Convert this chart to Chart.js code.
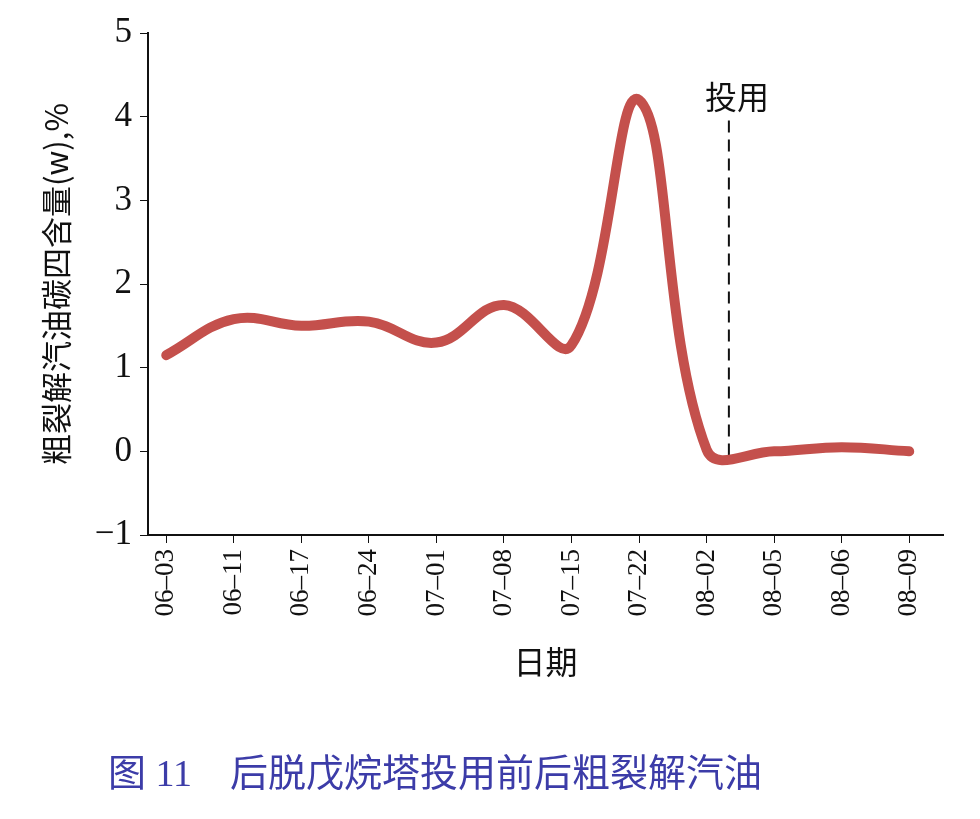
<!DOCTYPE html>
<html><head><meta charset="utf-8">
<script src="https://cdn.jsdelivr.net/npm/chart.js@4"></script>
<style>html,body{margin:0;padding:0;background:#fff;}#wrap{position:relative;width:980px;height:819px;}
#cap{position:absolute;left:108px;top:742px;font-family:"Liberation Serif","Noto Sans CJK SC";font-size:38px;color:#3c3ca8;white-space:pre;}</style>
</head><body><div id="wrap"><canvas id="c" width="980" height="819"></canvas><div id="cap">图 11    后脱戊烷塔投用前后粗裂解汽油</div></div>
<script>
const categories=["06–03","06–11","06–17","06–24","07–01","07–08","07–15","07–22","08–02","08–05","08–06","08–09"];
const values=[1.15,1.58,1.5,1.55,1.3,1.75,1.27,4.2,0.02,0.0,0.05,0.0];
const yTicks=[-1,0,1,2,3,4,5];
const markerX=8.33, markerTop=4.0, markerLabel="投用";
const pts=values.map((v,i)=>({x:i,y:v}));
const plug={id:'lbl',afterDatasetsDraw(ch){const c=ch.ctx,x=ch.scales.x.getPixelForValue(markerX),y=ch.scales.y.getPixelForValue(markerTop);
c.save();c.font='32px "Noto Sans CJK SC"';c.fillStyle='#111';c.textAlign='center';c.textBaseline='bottom';c.fillText(markerLabel,x+8,y-4);c.restore();}};
new Chart(document.getElementById('c'),{type:'line',plugins:[plug],
data:{datasets:[{data:pts,borderColor:'#c4504c',borderWidth:10,tension:0.4,pointRadius:0,borderCapStyle:'round',fill:false},
{data:[{x:markerX,y:-0.05},{x:markerX,y:markerTop}],borderColor:'#111',borderWidth:2,borderDash:[12,7],pointRadius:0}]},
options:{responsive:false,animation:false,layout:{padding:{top:33,right:37,bottom:134,left:34}},
plugins:{legend:{display:false},tooltip:{enabled:false}},
scales:{
x:{type:'linear',min:-0.27,max:11.5,afterBuildTicks(s){s.ticks=categories.map((_,i)=>({value:i}));},
ticks:{autoSkip:false,maxRotation:90,minRotation:90,callback:(v)=>categories[v],font:{family:'Liberation Serif',size:27},color:'#111',padding:6},
grid:{drawOnChartArea:false,drawTicks:true,tickLength:8,color:'#111'},border:{color:'#111',width:2},
title:{display:true,text:'日期',font:{family:'Noto Sans CJK SC',size:32},color:'#111',padding:{top:4}},
afterFit(s){s.height=150;}},
y:{min:-1,max:5,afterBuildTicks(s){s.ticks=yTicks.map(v=>({value:v}));},
ticks:{callback:v=>v<0?'−'+Math.abs(v):v,font:{family:'Liberation Serif',size:35},color:'#111',padding:8},
grid:{drawOnChartArea:false,drawTicks:true,tickLength:8,color:'#111'},border:{color:'#111',width:2},
title:{display:true,text:'粗裂解汽油碳四含量(w),%',font:{family:'Noto Sans CJK SC',size:31},color:'#111',padding:{bottom:2}},
afterFit(s){s.width=114;}}}}});
</script></body></html>
